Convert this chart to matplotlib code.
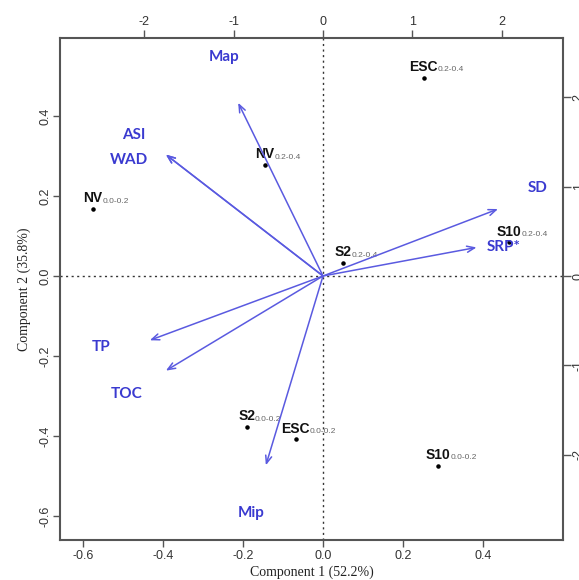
"""
PCA biplot: sample scores + variable loadings
"""

import matplotlib
matplotlib.use("Agg")
import matplotlib.pyplot as plt
import numpy as np

plt.rcParams["axes.unicode_minus"] = False

# 样本得分 (Component 1, Component 2)
sample_names = ["NV", "NV", "ESC", "ESC", "S2", "S2", "S10", "S10"]
sample_depths = ["0.0-0.2", "0.2-0.4", "0.2-0.4", "0.0-0.2", "0.2-0.4", "0.0-0.2", "0.2-0.4", "0.0-0.2"]
pc1_scores = [-0.575, -0.145, 0.252, -0.068, 0.051, -0.191, 0.465, 0.288]
pc2_scores = [0.168, 0.278, 0.496, -0.408, 0.033, -0.377, 0.085, -0.474]

# 变量载荷 (箭头终点, 上/右坐标轴)
var_names = ["Map", "ASI", "WAD", "SD", "SRP*", "TP", "TOC", "Mip"]
load_pc1 = [-0.95, -1.76, -1.76, 1.96, 1.72, -1.94, -1.76, -0.64]
load_pc2 = [1.94, 1.36, 1.36, 0.75, 0.32, -0.72, -1.06, -2.12]

top_ticks = [-2, -1, 0, 1, 2]
bottom_ticks = [-0.6, -0.4, -0.2, 0.0, 0.2, 0.4]
left_ticks = [-0.6, -0.4, -0.2, 0.0, 0.2, 0.4]

ratio = 4.48
blue_txt = "#3a3ad0"
blue_line = "#5a5ae0"
spine_c = "#555555"

# 标签微调 (points)
nudge = {"Map": (5, 2), "ASI": (5, -8), "WAD": (2, -26), "SD": (-3, 3), "SRP*": (-8, -5), "TP": (-4, 7)}

fig = plt.figure(figsize=(5.79, 5.80), dpi=100)
pos = [60 / 579, 40 / 580, 503 / 579, 502 / 580]
ax = fig.add_axes(pos)
ax.set_xlim(-0.6575, 0.6)
ax.set_ylim(-0.66, 0.595)

ax.axhline(0, color="#333333", linestyle=(0, (1.5, 2.5)), linewidth=1.0)
ax.axvline(0, color="#333333", linestyle=(0, (1.5, 2.5)), linewidth=1.0)

ax.scatter(pc1_scores, pc2_scores, s=5, color="black", zorder=3)
for x, y, n, d in zip(pc1_scores, pc2_scores, sample_names, sample_depths):
    t = ax.annotate(n, xy=(x, y), xytext=(0, 2.5), textcoords="offset points",
                    ha="center", va="bottom", fontsize=10, fontweight="bold",
                    family="Liberation Sans", color="#111111")
    ax.annotate(d, xy=(1, 0.05), xycoords=t, ha="left", va="bottom",
                fontsize=6, family="Liberation Sans", color="#666666")

ax.set_xticks(bottom_ticks)
ax.set_xticklabels(["-0.6", "-0.4", "-0.2", "0.0", "0.2", "0.4"])
ax.set_yticks(left_ticks)
ax.set_yticklabels(["-0.6", "-0.4", "-0.2", "0.0", "0.2", "0.4"], rotation=90, va="center")
ax.tick_params(length=5, width=1.0, color=spine_c, labelsize=9, pad=2)
ax.tick_params(axis="y", pad=1)
for lab in ax.get_xticklabels() + ax.get_yticklabels():
    lab.set_family("Liberation Sans")
    lab.set_color("#333333")
ax.set_xlabel("Component 1 (52.2%)", family="Liberation Serif", fontsize=10, labelpad=3, color="#222222")
ax.set_ylabel("Component 2 (35.8%)", family="Liberation Serif", fontsize=10, labelpad=6, color="#222222")
for s in ax.spines.values():
    s.set_color(spine_c)
    s.set_linewidth(1.5)

# 第二坐标轴: 载荷
ax2 = fig.add_axes(pos, frameon=False)
ax2.set_xlim(np.array(ax.get_xlim()) * ratio)
ax2.set_ylim(np.array(ax.get_ylim()) * ratio)
ax2.xaxis.tick_top()
ax2.yaxis.tick_right()
ax2.set_xticks(top_ticks)
ax2.set_yticks(top_ticks)
ax2.set_xticklabels([str(v) for v in top_ticks])
ax2.set_yticklabels([str(v) for v in top_ticks], rotation=90, va="center")
ax2.tick_params(length=6, width=1.0, color=spine_c, labelsize=9, pad=1)
for lab in ax2.get_xticklabels() + ax2.get_yticklabels():
    lab.set_family("Liberation Sans")
    lab.set_color("#333333")

for x, y, n in zip(load_pc1, load_pc2, var_names):
    ax2.annotate("", xy=(x, y), xytext=(0, 0),
                 arrowprops=dict(arrowstyle="->,head_length=0.55,head_width=0.22",
                                 color=blue_line, lw=1.1, shrinkA=0, shrinkB=0))
    dx, dy = nudge.get(n, (0, 0))
    ax2.annotate(n, xy=(x * 1.25, y * 1.25), xytext=(dx, dy), textcoords="offset points",
                 ha="center", va="center", fontsize=11, fontweight="bold",
                 family="Lato", color=blue_txt)

plt.savefig("out.png", dpi=100)
